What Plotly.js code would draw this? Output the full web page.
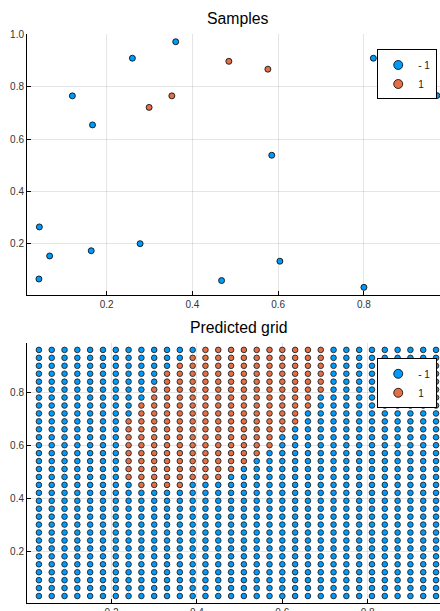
<!DOCTYPE html>
<html><head><meta charset="utf-8">
<script src="https://cdn.plot.ly/plotly-3.0.1.min.js"></script>
<style>html,body{margin:0;padding:0;background:#fff}</style>
</head><body><div id="chart" style="width:440px;height:611px"></div>
<script>
// ---- data ----
const classNames = ["- 1", "1"];
const classColors = ["#009AFA", "#E36F47"];

// Samples (top panel)
const sampleX = [0.043, 0.067, 0.042, 0.120, 0.167, 0.164, 0.260, 0.278, 0.361, 0.299, 0.352, 0.468, 0.485, 0.576, 0.585, 0.604, 0.800, 0.822, 0.970];
const sampleY = [0.265, 0.154, 0.066, 0.766, 0.655, 0.174, 0.910, 0.201, 0.973, 0.722, 0.766, 0.060, 0.898, 0.868, 0.539, 0.134, 0.034, 0.910, 0.767];
const sampleClass = [-1, -1, -1, -1, -1, -1, -1, -1, -1, 1, 1, -1, 1, 1, -1, -1, -1, -1, -1];

// Predicted grid (bottom panel)
const gridX = [0.03,0.06,0.09,0.12,0.15,0.18,0.21,0.24,0.27,0.30,0.33,0.36,0.39,0.42,0.45,0.48,0.51,0.54,0.57,0.60,0.63,0.66,0.69,0.72,0.75,0.78,0.81,0.84,0.87,0.90,0.93,0.96];
const gridY = [0.96,0.93,0.90,0.87,0.84,0.81,0.78,0.75,0.72,0.69,0.66,0.63,0.60,0.57,0.54,0.51,0.48,0.45,0.42,0.39,0.36,0.33,0.30,0.27,0.24,0.21,0.18,0.15,0.12,0.09,0.06,0.03];
// one string per gridY row, one char per gridX column: 'o' = class 1, '.' = class -1
const gridRows = [
  "........ .....ooo ooooooo. ........",
  "........ ....oooo ooooooo. ........",
  "........ ...ooooo ooooooo. ........",
  "........ ..oooooo ooooooo. ........",
  "........ ..oooooo ooooooo. ........",
  "........ .ooooooo ooooooo. ........",
  "........ .ooooooo oooooo.. ........",
  "........ oooooooo oooooo.. ........",
  "........ oooooooo ooooo... ........",
  ".......o oooooooo ooooo... ........",
  ".......o oooooooo oooo.... ........",
  ".......o oooooooo ooo..... ........",
  ".......o oooooooo ooo..... ........",
  ".......o oooooooo oo...... ........",
  ".......o oooooooo o....... ........",
  ".......o oooooooo ........ ........",
  ".......o ooooooo. ........ ........",
  "........ oooo.... ........ ........",
  "........ ........ ........ ........",
  "........ ........ ........ ........",
  "........ ........ ........ ........",
  "........ ........ ........ ........",
  "........ ........ ........ ........",
  "........ ........ ........ ........",
  "........ ........ ........ ........",
  "........ ........ ........ ........",
  "........ ........ ........ ........",
  "........ ........ ........ ........",
  "........ ........ ........ ........",
  "........ ........ ........ ........",
  "........ ........ ........ ........",
  "........ ........ ........ ........"
];

// ---- build ----
const FONT = "Liberation Sans, Arial, sans-serif";
function pick(xs, ys, cls, want) {
  const ox = [], oy = [];
  for (let i = 0; i < xs.length; i++) if (cls[i] === want) { ox.push(xs[i]); oy.push(ys[i]); }
  return [ox, oy];
}
const gX = [], gY = [], gC = [];
gridRows.forEach((row, r) => {
  const s = row.replace(/ /g, "");
  for (let c = 0; c < s.length; c++) { gX.push(gridX[c]); gY.push(gridY[r]); gC.push(s[c] === "o" ? 1 : -1); }
});

const traces = [];
[-1, 1].forEach((k, i) => {
  const [sx, sy] = pick(sampleX, sampleY, sampleClass, k);
  traces.push({type: "scatter", mode: "markers", x: sx, y: sy, xaxis: "x", yaxis: "y",
    showlegend: false, hoverinfo: "skip",
    marker: {size: 6, color: classColors[i], line: {color: "#000", width: 0.8}}});
});
[-1, 1].forEach((k, i) => {
  const [sx, sy] = pick(gX, gY, gC, k);
  traces.push({type: "scatter", mode: "markers", x: sx, y: sy, xaxis: "x2", yaxis: "y2",
    showlegend: false, hoverinfo: "skip",
    marker: {size: 5.6, color: classColors[i], line: {color: "#222", width: 0.9}}});
});
// legend entries
[0, 1].forEach(i => {
  traces.push({type: "scatter", mode: "markers", x: [null], y: [null], xaxis: "x", yaxis: "y",
    name: classNames[i], legend: "legend",
    marker: {size: 9, color: classColors[i], line: {color: "#000", width: 0.8}}});
});
[0, 1].forEach(i => {
  traces.push({type: "scatter", mode: "markers", x: [null], y: [null], xaxis: "x2", yaxis: "y2",
    name: classNames[i], legend: "legend2",
    marker: {size: 9, color: classColors[i], line: {color: "#000", width: 0.8}}});
});

const axisCommon = {
  showline: true, linecolor: "#000", linewidth: 1,
  showgrid: true, gridcolor: "rgba(0,0,0,0.1)", gridwidth: 1,
  zeroline: false, ticks: "inside", ticklen: 4, tickcolor: "#000", tickwidth: 1,
  tickformat: ".1f", tickfont: {family: FONT, size: 10, color: "#333"},
  mirror: false, fixedrange: true
};
const legendCommon = {
  xanchor: "left", yanchor: "top", bgcolor: "#fff", bordercolor: "#000", borderwidth: 1,
  font: {family: FONT, size: 10, color: "#222"}, tracegroupgap: 0, itemwidth: 30
};

const layout = {
  width: 440, height: 611,
  margin: {l: 27, r: 0, t: 0, b: 0},
  paper_bgcolor: "#fff", plot_bgcolor: "#fff",
  showlegend: true,
  xaxis: Object.assign({}, axisCommon, {domain: [0, 1], range: [0.0142, 0.9774], tickvals: [0.2, 0.4, 0.6, 0.8], anchor: "y"}),
  yaxis: Object.assign({}, axisCommon, {domain: [0.5177, 0.9437], range: [0.006, 1.001], tickvals: [0.2, 0.4, 0.6, 0.8, 1.0], anchor: "x"}),
  xaxis2: Object.assign({}, axisCommon, {domain: [0, 1], range: [0.0021, 0.9693], tickvals: [0.2, 0.4, 0.6, 0.8], anchor: "y2"}),
  yaxis2: Object.assign({}, axisCommon, {domain: [0.0124, 0.4394], range: [0.0021, 0.9879], tickvals: [0.2, 0.4, 0.6, 0.8], anchor: "x2"}),
  legend: Object.assign({}, legendCommon, {x: 0.848, y: 0.919}),
  legend2: Object.assign({}, legendCommon, {x: 0.848, y: 0.4136}),
  annotations: [
    {text: "Samples", xref: "paper", yref: "paper", x: 0.5097, y: 1 - 19 / 611, xanchor: "center", yanchor: "middle",
     showarrow: false, font: {family: FONT, size: 15.8, color: "#000"}},
    {text: "Predicted grid", xref: "paper", yref: "paper", x: 0.5109, y: 1 - 327 / 611, xanchor: "center", yanchor: "middle",
     showarrow: false, font: {family: FONT, size: 15.8, color: "#000"}}
  ]
};

Plotly.newPlot("chart", traces, layout, {displayModeBar: false, staticPlot: true});
</script>
</body></html>
